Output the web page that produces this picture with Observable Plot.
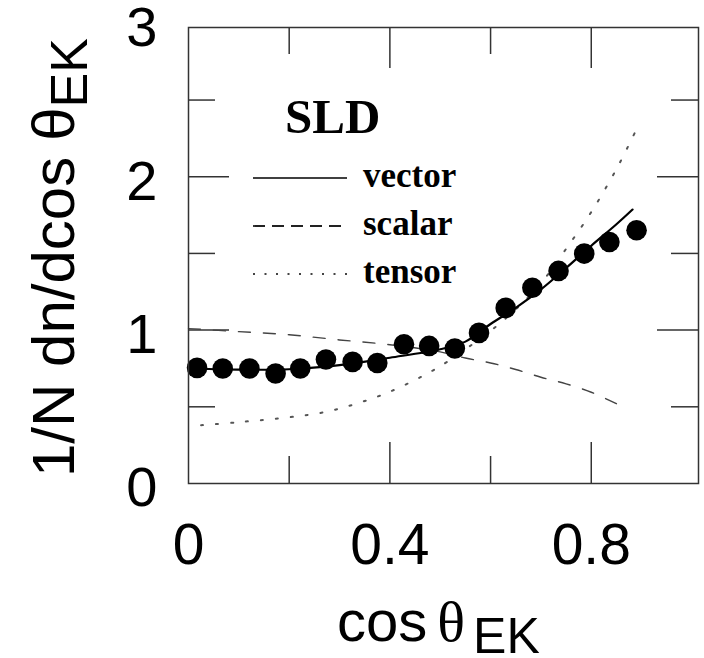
<!DOCTYPE html>
<html>
<head>
<meta charset="utf-8">
<script src="https://cdn.jsdelivr.net/npm/d3@7"></script>
<script src="https://cdn.jsdelivr.net/npm/@observablehq/plot@0.6"></script>
<style>
  html, body { margin: 0; padding: 0; background: #fff; }
  svg { display: block; }
</style>
</head>
<body>
<div id="chart"></div>
<script>
// ---- data ----
const dataX = [0.017, 0.068, 0.121, 0.173, 0.222, 0.273, 0.326, 0.375, 0.428, 0.478, 0.529, 0.577, 0.630, 0.683, 0.735, 0.786, 0.836, 0.890];
const dataY = [0.754, 0.750, 0.750, 0.717, 0.750, 0.808, 0.793, 0.786, 0.908, 0.897, 0.880, 0.982, 1.145, 1.276, 1.386, 1.499, 1.575, 1.651];

const vectorX = [0.015, 0.1, 0.2, 0.3, 0.4, 0.5, 0.55, 0.6, 0.65, 0.7, 0.75, 0.8, 0.85, 0.882];
const vectorY = [0.748, 0.742, 0.745, 0.772, 0.82, 0.875, 0.925, 1.04, 1.145, 1.265, 1.405, 1.55, 1.69, 1.786];

const scalarX = [0, 0.1, 0.2, 0.3, 0.4, 0.5, 0.55, 0.6, 0.65, 0.7, 0.75, 0.8, 0.85, 0.869];
const scalarY = [1.01, 0.99, 0.97, 0.936, 0.905, 0.858, 0.818, 0.786, 0.743, 0.693, 0.65, 0.595, 0.52, 0.489];

const tensorX = [0.025, 0.1, 0.2, 0.27, 0.33, 0.39, 0.45, 0.5, 0.55, 0.6, 0.65, 0.7, 0.75, 0.8, 0.85, 0.888];
const tensorY = [0.38, 0.40, 0.432, 0.465, 0.517, 0.585, 0.675, 0.765, 0.875, 0.995, 1.135, 1.305, 1.53, 1.77, 2.05, 2.297];

const xTickLabels = [0, 0.4, 0.8];
const xMajorTicks = [0.4, 0.8];
const xMinorTicks = [0.2, 0.6];
const yTickLabels = [0, 1, 2, 3];
const yMajorTicks = [1, 2];
const yMinorTicks = [0.5, 1.5, 2.5];
const legendLabels = ["vector", "scalar", "tensor"];
const panelLabel = "SLD";

// ---- layout ----
const W = 704, H = 658;
const mL = 188, mR = 6, mT = 27, mB = 175;
const pw = W - mL - mR, ph = H - mT - mB;
const majorLen = 41, minorLen = 27;

const toRows = (xs, ys) => xs.map((x, i) => ({x, y: ys[i]}));
const points = toRows(dataX, dataY);
const vector = toRows(vectorX, vectorY);
const scalar = toRows(scalarX, scalarY);
const tensor = toRows(tensorX, tensorY);

const tk = {stroke: "#333", strokeWidth: 1.5};

const chart = Plot.plot({
  width: W, height: H,
  marginLeft: mL, marginRight: mR, marginTop: mT, marginBottom: mB,
  x: {domain: [0, 1.013], label: null},
  y: {domain: [0, 2.973], label: null},
  style: {fontFamily: "'Liberation Sans', Arial, sans-serif", background: "#fff", color: "#000"},
  marks: [
    // inward ticks, bottom & top
    Plot.tickX(xMajorTicks, {x: d => d, insetTop: ph - majorLen, ...tk}),
    Plot.tickX(xMinorTicks, {x: d => d, insetTop: ph - minorLen, ...tk}),
    Plot.tickX(xMajorTicks, {x: d => d, insetBottom: ph - majorLen, ...tk}),
    Plot.tickX(xMinorTicks, {x: d => d, insetBottom: ph - minorLen, ...tk}),
    // inward ticks, left & right
    Plot.tickY(yMajorTicks, {y: d => d, insetRight: pw - majorLen, ...tk}),
    Plot.tickY(yMinorTicks, {y: d => d, insetRight: pw - minorLen, ...tk}),
    Plot.tickY(yMajorTicks, {y: d => d, insetLeft: pw - majorLen, ...tk}),
    Plot.tickY(yMinorTicks, {y: d => d, insetLeft: pw - minorLen, ...tk}),
    Plot.axisX(xTickLabels, {anchor: "bottom", tickSize: 0, tickPadding: 40, fontSize: 57, tickFormat: d => String(d), label: null}),
    Plot.axisY(yTickLabels, {anchor: "left", tickSize: 0, tickPadding: 31, fontSize: 56, dy: 5, tickFormat: d => String(d), label: null}),
    // theory curves
    Plot.line(tensor, {x: "x", y: "y", curve: "catmull-rom", stroke: "#555", strokeWidth: 2, strokeDasharray: "2,13"}),
    Plot.line(scalar, {x: "x", y: "y", curve: "catmull-rom", stroke: "#444", strokeWidth: 1.4, strokeDasharray: "12,13"}),
    Plot.line(vector, {x: "x", y: "y", curve: "catmull-rom", stroke: "#000", strokeWidth: 2.2}),
    // data
    Plot.dot(points, {x: "x", y: "y", r: 10.3, fill: "#000", stroke: "none"}),
    Plot.frame({stroke: "#333", strokeWidth: 1.5})
  ]
});

document.getElementById("chart").appendChild(chart);
const svg = d3.select(chart);

// panel label
svg.append("text")
  .attr("x", mL + 97).attr("y", 133)
  .attr("text-anchor", "start")
  .attr("font-family", "'Liberation Serif', 'Times New Roman', serif")
  .attr("font-weight", "bold").attr("font-size", 49)
  .attr("fill", "#000")
  .text(panelLabel);

// legend
const legendStyles = [
  {dash: null, color: "#000", width: 1.6},
  {dash: "12,7", color: "#222", width: 1.8},
  {dash: "2,9.5", color: "#444", width: 1.8}
];
legendLabels.forEach((lab, i) => {
  const ly = 178 + 48 * i;
  const ln = svg.append("line")
    .attr("x1", 253).attr("x2", 347).attr("y1", ly).attr("y2", ly)
    .attr("stroke", legendStyles[i].color).attr("stroke-width", legendStyles[i].width);
  if (legendStyles[i].dash) ln.attr("stroke-dasharray", legendStyles[i].dash);
  svg.append("text")
    .attr("x", 363).attr("y", ly + 8.5)
    .attr("text-anchor", "start")
    .attr("font-family", "'Liberation Serif', 'Times New Roman', serif")
    .attr("font-weight", "bold").attr("font-size", 35)
    .attr("fill", "#000")
    .text(lab);
});

// x axis title: cos θ_EK
const xt = svg.append("text")
  .attr("x", 337).attr("y", 641)
  .attr("text-anchor", "start")
  .attr("font-family", "'Liberation Sans', Arial, sans-serif")
  .attr("font-size", 58).attr("fill", "#000");
xt.append("tspan").text("cos");
xt.append("tspan").attr("dx", 10).attr("font-family", "'Liberation Serif', 'Times New Roman', serif").text("θ");
xt.append("tspan").attr("dx", 8).attr("dy", 12).attr("font-size", 50).text("EK");

// y axis title: 1/N dn/dcos θ_EK
const yt = svg.append("text")
  .attr("transform", "translate(74,477) rotate(-90)")
  .attr("text-anchor", "start")
  .attr("font-family", "'Liberation Sans', Arial, sans-serif")
  .attr("font-size", 60).attr("fill", "#000");
yt.append("tspan").text("1/N dn/dcos");
yt.append("tspan").attr("dx", 16).text("θ");
yt.append("tspan").attr("dy", 13).attr("font-size", 52).text("EK");
</script>
</body>
</html>
